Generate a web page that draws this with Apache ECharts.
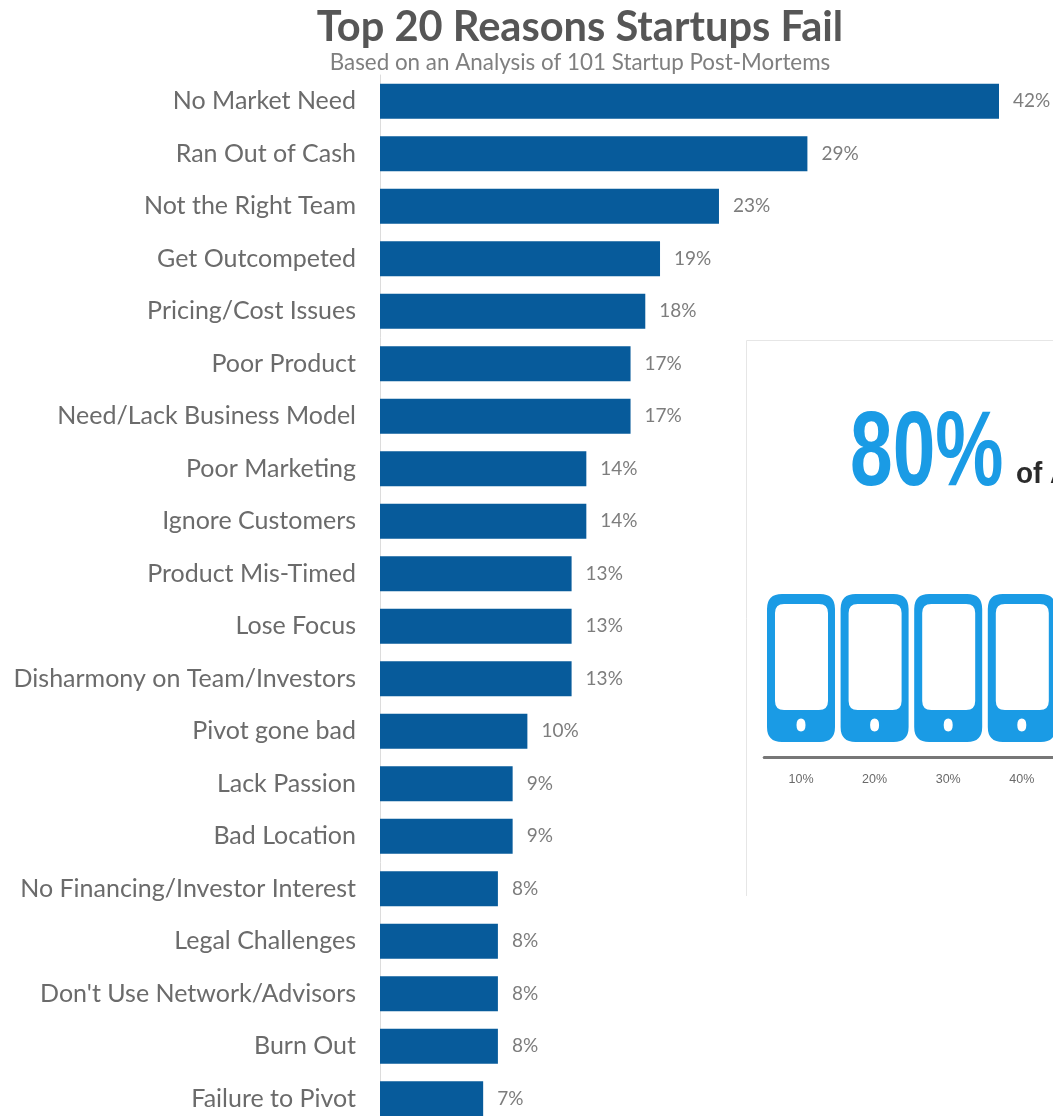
<!DOCTYPE html>
<html>
<head>
<meta charset="utf-8">
<style>html,body{margin:0;padding:0;background:#fff;overflow:hidden;width:1053px;height:1116px}#chart{width:1070px;height:1130px}</style>
<script src="https://cdn.jsdelivr.net/npm/echarts@6/dist/echarts.min.js"></script>
</head>
<body>
<div id="chart"></div>
<script>
// Failure reasons and the share of post-mortems citing each one
const reasons = ["No Market Need","Ran Out of Cash","Not the Right Team","Get Outcompeted","Pricing/Cost Issues","Poor Product","Need/Lack Business Model","Poor Marketing","Ignore Customers","Product Mis-Timed","Lose Focus","Disharmony on Team/Investors","Pivot gone bad","Lack Passion","Bad Location","No Financing/Investor Interest","Legal Challenges","Don't Use Network/Advisors","Burn Out","Failure to Pivot"];
const shares = [42,29,23,19,18,17,17,14,14,13,13,13,10,9,9,8,8,8,8,7];

// Inset: one phone per ten percent
const phoneTicks = ["10%","20%","30%","40%"];
const phoneFilled = [1,1,1,1];

// Phone glyph: body, then screen and button wound the other way so they punch through
const phonePath = "path://M15 0H53Q68 0 68 15V133Q68 148 53 148H15Q0 148 0 133V15Q0 0 15 0Z" +
  "M17 10Q8 10 8 19V107Q8 116 17 116H52Q61 116 61 107V19Q61 10 52 10Z" +
  "M34 124.5Q29.5 124.5 29.5 131Q29.5 137.5 34 137.5Q38.5 137.5 38.5 131Q38.5 124.5 34 124.5Z";

const chart = echarts.init(document.getElementById('chart'), null, {renderer:'canvas'});
chart.setOption({
  animation:false,
  backgroundColor:'#fff',
  title:{
    text:'Top 20 Reasons Startups Fail',
    subtext:'Based on an Analysis of 101 Startup Post-Mortems',
    left:575, top:2, textAlign:'center', itemGap:3,
    textStyle:{fontFamily:'Lato',fontWeight:'bold',fontSize:41.6,color:'#565656'},
    subtextStyle:{fontFamily:'Lato',fontSize:22.4,color:'#7f7f7f'}
  },
  grid:[
    {left:380, top:75, width:619, height:1050, containLabel:false},
    {left:764.2, top:594, width:294.4, height:163}
  ],
  xAxis:[
    {gridIndex:0, type:'value', min:0, max:42, show:false},
    {gridIndex:1, type:'category', data:phoneTicks,
     axisLine:{lineStyle:{color:'#777',width:3}}, axisTick:{show:false},
     axisLabel:{fontFamily:'Liberation Sans',fontSize:12.5,color:'#6a6a6a',margin:16}}
  ],
  yAxis:[
    {gridIndex:0, type:'category', inverse:true, data:reasons,
     axisLine:{lineStyle:{color:'#dcdcdc',width:1}}, axisTick:{show:false},
     axisLabel:{fontFamily:'Lato',fontSize:25,color:'#6b6b6b',margin:24,interval:0}},
    {gridIndex:1, type:'value', min:0, max:1, show:false}
  ],
  series:[
    {type:'bar', xAxisIndex:0, yAxisIndex:0, data:shares, barWidth:35,
     itemStyle:{color:'#075b9b'},
     label:{show:true,position:'right',distance:14,formatter:'{c}%',fontFamily:'Lato',fontSize:19,color:'#7d7d7d'},
     silent:true},
    {type:'pictorialBar', xAxisIndex:1, yAxisIndex:1, data:phoneFilled,
     symbol:phonePath, symbolSize:[68,148], symbolPosition:'end', symbolOffset:[0,0],
     itemStyle:{color:'#1a9be5'}, silent:true}
  ],
  graphic:[
    {type:'polyline', shape:{points:[[746.5,896],[746.5,340.5],[1053,340.5]]}, style:{fill:null,stroke:'#e6e6e6',lineWidth:1}},
    {type:'text', x:850, y:404, scaleX:0.73, style:{text:'80%',font:'bold 105px "Liberation Sans"',fill:'#1a9be5'}},
    {type:'text', x:1016, y:460, scaleX:0.93, style:{text:'of A',font:'bold 30px "Liberation Sans"',fill:'#2b2b2b'}}
  ]
});
</script>
</body>
</html>
